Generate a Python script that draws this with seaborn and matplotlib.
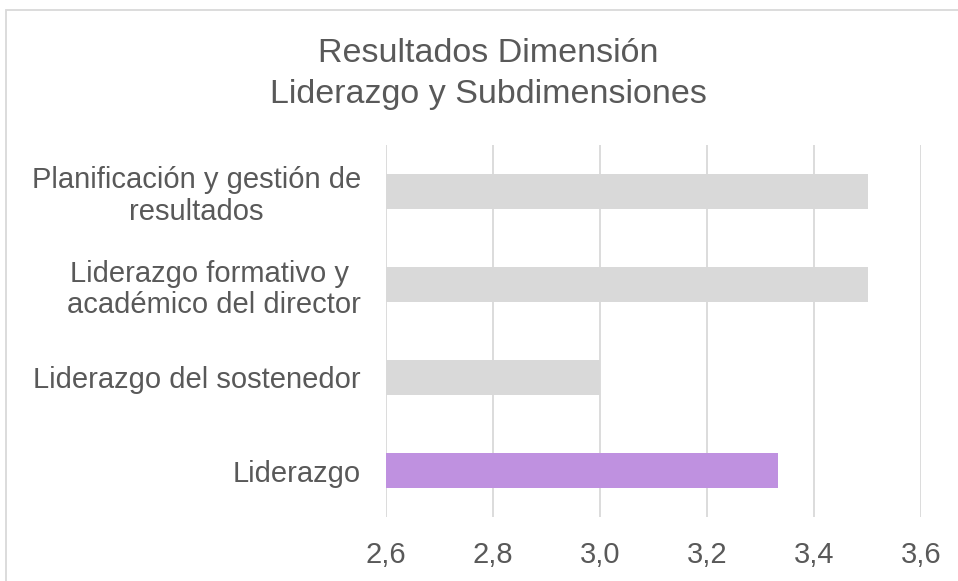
import matplotlib
matplotlib.use("Agg")
import matplotlib.pyplot as plt
import seaborn as sns
import pandas as pd
from matplotlib.patches import Rectangle

categories = ["Planificación y gestión de\nresultados",
              "Liderazgo formativo y \nacadémico del director",
              "Liderazgo del sostenedor",
              "Liderazgo"]
values = [3.5, 3.5, 3.0, 3.333]
bar_colors = ["#d9d9d9", "#d9d9d9", "#d9d9d9", "#bf91e0"]
xticks = [2.6, 2.8, 3.0, 3.2, 3.4, 3.6]
xtick_labels = ["2,6", "2,8", "3,0", "3,2", "3,4", "3,6"]
title = "Resultados Dimensión\nLiderazgo y Subdimensiones"

sns.set_style("white")
plt.rcParams['font.family'] = ['Liberation Sans', 'DejaVu Sans']

df = pd.DataFrame({"cat": categories, "val": values})

fig = plt.figure(figsize=(9.58, 5.81), dpi=100)
ax = fig.add_axes([386/958, 1-517/581, (921-386)/958, (517-145)/581])

sns.barplot(data=df, y="cat", x="val", hue="cat", palette=bar_colors,
            orient="h", width=0.37, legend=False, ax=ax, zorder=3,
            saturation=1)
for p in ax.patches:
    x0 = p.get_x()
    w = p.get_width()
    p.set_x(2.6)
    p.set_width(x0 + w - 2.6)
    p.set_edgecolor("none")

ax.set_xlim(2.6, 3.6)
ax.set_ylim(3.5, -0.5)
ax.set_xticks(xticks)
ax.set_xticklabels(xtick_labels)
ax.grid(axis="x", color="#d9d9d9", linewidth=1.3, zorder=0)
ax.set_axisbelow(True)
for s in ax.spines.values():
    s.set_visible(False)
ax.set_xlabel("")
ax.set_ylabel("")
ax.tick_params(axis="both", length=0, labelsize=21, colors="#595959")
ax.tick_params(axis="y", pad=18)
ax.tick_params(axis="x", pad=17)
for lbl in ax.get_yticklabels():
    lbl.set_multialignment("center")
    lbl.set_linespacing(1.15)

fig.text(488/958, 1-74/581, title, ha="center", va="center",
         fontsize=24.5, color="#595959", linespacing=1.4)

fig.patches.append(Rectangle((6/958, -0.1), 1.2, 1 - 10/581 + 0.1,
                             transform=fig.transFigure, fill=False,
                             edgecolor="#d9d9d9", linewidth=1.3))

fig.savefig("out.png", dpi=100)
